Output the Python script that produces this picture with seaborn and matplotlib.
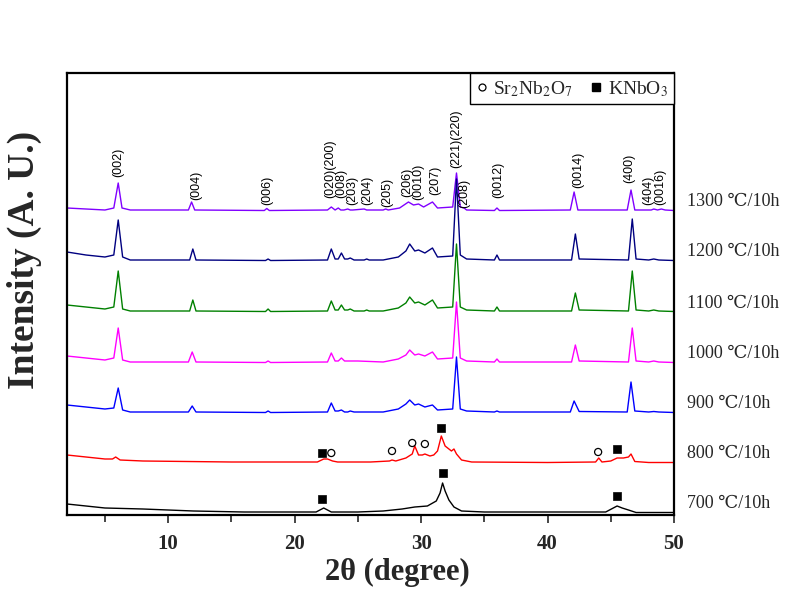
import matplotlib
matplotlib.use("Agg")
import matplotlib.pyplot as plt
from matplotlib.lines import Line2D
from matplotlib.ticker import MultipleLocator
import seaborn as sns
import pandas as pd

# ---------------- data ----------------
labels = ["1300 \u2103/10h", "1200 \u2103/10h", "1100 \u2103/10h", "1000 \u2103/10h",
          "900 \u2103/10h", "800 \u2103/10h", "700 \u2103/10h"]
colors = ["#8000ff", "#000080", "#008000", "#ff00ff", "#0000ff", "#ff0000", "#000000"]

x1300 = [2.0, 3.5, 5.0, 5.7, 6.05, 6.35, 7.0, 11.6, 11.85, 12.1, 17.6, 17.8, 18.0,
         22.6, 22.9, 23.2, 23.45, 23.65, 23.9, 24.2, 24.4, 24.6, 25.5, 25.7, 25.9,
         27.0, 27.2, 27.4, 28.3, 29.0, 29.4, 29.8, 30.2, 30.9, 31.3, 32.5, 32.8, 33.1,
         33.4, 33.6, 35.8, 36.0, 36.2, 41.8, 42.1, 42.4, 46.3, 46.6, 46.9, 48.2, 48.4,
         48.7, 49.0, 49.3, 50.0]
y1300 = [3, 2, 1, 3, 28, 3, 1, 1, 9, 1, 0.5, 2.5, 0.5,
         1, 4, 1, 3, 1, 1, 2, 1, 1, 2, 1, 1,
         1, 2, 1, 3, 9, 6, 7, 4, 9, 3, 4, 38, 4,
         3, 1, 0.5, 3, 0.5, 1, 19, 1, 1, 21, 1, 1, 2,
         1, 2, 1, 0.5]

x1200 = [2.0, 3.5, 5.0, 5.7, 6.05, 6.4, 7.0, 11.7, 11.95, 12.2, 17.7, 17.9, 18.1,
         22.6, 22.9, 23.2, 23.45, 23.7, 23.95, 24.2, 24.4, 24.7, 25.5, 25.7, 25.9,
         27.0, 28.2, 28.8, 29.1, 29.5, 29.8, 30.3, 30.9, 31.3, 32.5, 32.8, 33.1,
         33.6, 35.8, 36.0, 36.2, 41.9, 42.2, 42.5, 46.4, 46.7, 47.0, 48.0, 48.4,
         48.8, 50.0]
y1200 = [9, 6, 4, 6, 41, 4, 1, 1, 12, 1, 0.5, 2, 0.5,
         1, 12, 2, 2, 8, 2, 2, 3, 1, 1, 2, 1,
         1, 4, 10, 17, 10, 11, 8, 13, 4, 5, 82, 6,
         2, 1, 6, 1, 1, 27, 2, 1, 42, 2, 1, 2,
         1, 0.5]

x1100 = [2.0, 3.5, 5.0, 5.7, 6.05, 6.4, 7.0, 11.7, 11.95, 12.2, 17.7, 17.9, 18.1,
         22.6, 22.9, 23.2, 23.45, 23.7, 23.95, 24.2, 24.4, 24.7, 25.5, 25.7, 25.9,
         27.0, 28.2, 28.8, 29.1, 29.5, 29.8, 30.3, 30.9, 31.3, 32.5, 32.8, 33.1,
         33.6, 35.8, 36.0, 36.2, 41.9, 42.2, 42.5, 46.4, 46.7, 47.0, 48.0, 48.4,
         48.8, 50.0]
y1100 = [7, 5, 3, 5, 41, 3, 1, 1, 12, 1, 0.5, 3, 0.5,
         1, 11, 2, 2, 7, 2, 2, 3, 1, 1, 2, 1,
         1, 4, 9, 15, 9, 10, 7, 12, 4, 5, 68, 5,
         2, 1, 5, 1, 1, 19, 2, 1, 41, 2, 1, 2,
         1, 0.5]

x1000 = [2.0, 3.5, 5.0, 5.7, 6.05, 6.4, 7.0, 11.6, 11.9, 12.2, 17.7, 17.9, 18.1,
         22.6, 22.9, 23.2, 23.45, 23.7, 23.95, 25.0, 27.0, 28.2, 28.8, 29.1, 29.5,
         29.8, 30.3, 30.9, 31.3, 32.5, 32.8, 33.1, 33.6, 35.8, 36.0, 36.2, 41.9,
         42.2, 42.5, 46.4, 46.7, 47.0, 48.0, 48.4, 48.8, 50.0]
y1000 = [7, 5, 3, 5, 35, 3, 1, 1, 11, 1, 0.5, 2, 0.5,
         1, 10, 2, 2, 5, 2, 2, 1, 4, 8, 13, 8,
         9, 7, 11, 4, 5, 61, 5, 2, 1, 4, 1, 1,
         18, 2, 1, 35, 2, 1, 2, 1, 0.5]

x900 = [2.0, 3.5, 5.0, 5.7, 6.05, 6.4, 7.0, 11.6, 11.9, 12.2, 17.7, 17.9, 18.1,
        22.6, 22.9, 23.2, 23.45, 23.7, 23.95, 24.2, 24.4, 24.7, 27.0, 28.2, 28.8,
        29.1, 29.5, 29.8, 30.3, 30.9, 31.3, 32.5, 32.8, 33.1, 33.6, 35.8, 36.0,
        36.2, 41.8, 42.1, 42.5, 46.3, 46.6, 46.9, 48.0, 48.4, 48.8, 50.0]
y900 = [8, 6, 4, 5, 25, 3, 1, 1, 7, 1, 0.5, 2, 0.5,
        1, 10, 2, 2, 3, 1, 1, 2, 1, 1, 4, 9,
        13, 8, 9, 6, 8, 3, 4, 56, 4, 2, 1, 2,
        1, 1, 12, 1.5, 1, 31, 2, 1, 1.5, 1, 0.5]

x800 = [2.0, 3.5, 5.0, 5.6, 5.85, 6.2, 8.0, 15.0, 21.8, 22.3, 22.6, 23.0, 23.4,
        26.0, 27.5, 27.7, 28.0, 28.8, 29.3, 29.5, 29.8, 30.1, 30.3, 30.7, 31.0,
        31.3, 31.6, 31.9, 32.1, 32.4, 32.6, 32.8, 33.2, 34.0, 40.0, 43.8, 44.05,
        44.3, 45.0, 45.5, 46.0, 46.4, 46.6, 46.9, 48.0, 50.0]
y800 = [8, 6, 4, 4, 6, 3, 2, 1, 1, 4, 4, 2, 1,
        1, 2, 3, 2, 5, 9, 17, 8, 8, 9, 7, 8,
        12, 27, 17, 15, 12, 14, 9, 3, 1, 0.5, 1, 5,
        1, 2, 5, 5, 6, 9, 1.5, 0.5, 0.5]

x700 = [2.0, 3.5, 5.0, 8.0, 12.0, 16.0, 21.7, 22.3, 22.9, 25.0, 27.0, 28.5, 29.5,
        30.5, 31.2, 31.5, 31.7, 31.9, 32.2, 32.6, 33.2, 35.0, 44.6, 45.2, 45.5,
        45.9, 46.4, 47.0, 50.0]
y700 = [9, 7, 5, 4, 2, 1, 1, 5, 1, 1, 2, 4, 6,
        7, 12, 20, 30, 22, 13, 6, 2, 1, 1, 5, 7,
        5, 3, 0.5, 0.5]

xs = [x1300, x1200, x1100, x1000, x900, x800, x700]
ys = [y1300, y1200, y1100, y1000, y900, y800, y700]

# phase markers (2theta, height above own baseline)
sq800_x = [22.2, 31.6, 45.5]
sq800_y = [10, 35, 14]
ci800_x = [22.9, 27.7, 29.3, 30.3, 44.0]
ci800_y = [10, 12, 20, 19, 11]
sq700_x = [22.2, 31.7, 45.5]
sq700_y = [14, 40, 17]

# hkl labels (2theta, label, height of label foot above the 1300 baseline)
hkl_x = [6.05, 12.2, 17.8, 22.85, 23.7, 24.55, 25.75, 27.3, 28.9, 29.8, 31.1, 32.8,
         33.45, 36.1, 42.4, 46.5, 48.0, 48.9]
hkl_text = ["(002)", "(004)", "(006)", "(020)(200)", "(008)", "(203)", "(204)", "(205)",
            "(206)", "(0010)", "(207)", "(221)(220)", "(208)", "(0012)", "(0014)",
            "(400)", "(404)", "(0016)"]
hkl_h = [34, 11, 6, 13, 13, 6, 6, 4, 14, 11, 16, 43, 3, 13, 23, 28, 6, 6]

xticks = [10, 20, 30, 40, 50]

# ---------------- layout ----------------
offsets = [304, 254, 203, 152, 102, 52, 2]

sns.set_style("ticks")
plt.rcParams["font.family"] = ["Liberation Serif", "DejaVu Serif", "DejaVu Sans"]
plt.rcParams["mathtext.fontset"] = "stix"

fig = plt.figure(figsize=(8.11, 6.08), dpi=100)
ax = fig.add_axes([67 / 811, 93 / 608, 607 / 811, 442 / 608])

for xv, yv, off, c in zip(xs, ys, offsets, colors):
    df = pd.DataFrame({"x": xv, "y": [v + off for v in yv]})
    sns.lineplot(data=df, x="x", y="y", color=c, lw=1.0, ax=ax,
                 estimator=None, sort=False)

sns.scatterplot(x=sq800_x, y=[v + offsets[5] for v in sq800_y], marker="s", s=36,
                color="black", edgecolor="black", ax=ax, zorder=5)
sns.scatterplot(x=ci800_x, y=[v + offsets[5] for v in ci800_y], marker="o", s=26,
                facecolor="none", edgecolor="black", linewidth=0.9, ax=ax, zorder=5)
sns.scatterplot(x=sq700_x, y=[v + offsets[6] for v in sq700_y], marker="s", s=36,
                color="black", edgecolor="black", ax=ax, zorder=5)

# hkl labels above the 1300 pattern
for hx, ht, hh in zip(hkl_x, hkl_text, hkl_h):
    ax.text(hx, offsets[0] + hh, ht, rotation=90, ha="center", va="bottom",
            fontsize=9, family=["Liberation Sans", "DejaVu Sans"], color="black")

# right-hand labels
for lab, off in zip(labels, offsets):
    ax.text(1.021, off + 9, lab, transform=ax.get_yaxis_transform(), ha="left",
            va="center", fontsize=13, clip_on=False)

ax.set_xlim(2, 50)
ax.set_ylim(0, 442)
ax.set_xticks(xticks)
ax.xaxis.set_minor_locator(MultipleLocator(5))
ax.set_yticks([])
ax.tick_params(axis="x", which="major", direction="out", length=6, width=1.2,
               labelsize=15, pad=8)
ax.tick_params(axis="x", which="minor", direction="out", length=5, width=1.2)
for lbl in ax.get_xticklabels():
    lbl.set_fontweight("bold")
for sp in ax.spines.values():
    sp.set_visible(True)
    sp.set_linewidth(1.6)
    sp.set_color("black")

ax.set_xlabel("2\u03b8 (degree)", fontsize=22, fontweight="bold")
ax.xaxis.set_label_coords(0.544, -0.098)
ax.set_ylabel("Intensity (A. U.)", fontsize=27, fontweight="bold")
ax.yaxis.set_label_coords(-0.042, 0.577)

handles = [Line2D([], [], marker="o", ls="none", markerfacecolor="none",
                  markeredgecolor="black", markersize=5, markeredgewidth=0.9),
           Line2D([], [], marker="s", ls="none", color="black", markersize=6)]
leg = ax.legend(handles, [r"Sr$_2$Nb$_2$O$_7$", r"KNbO$_3$"], loc="upper right",
                ncol=2, fontsize=14, frameon=True, fancybox=False, framealpha=1,
                edgecolor="black", borderaxespad=0, handlelength=0.6,
                handletextpad=0.3, columnspacing=0.9, borderpad=0.3)
leg.get_frame().set_linewidth(1.0)

fig.savefig("out.png", dpi=100)
